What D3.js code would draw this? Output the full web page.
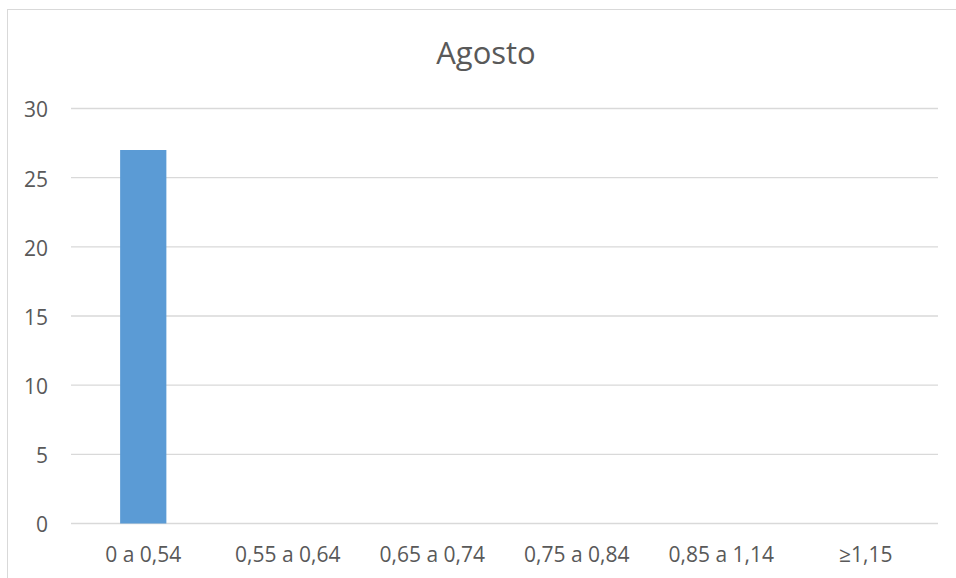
<!DOCTYPE html>
<html>
<head>
<meta charset="utf-8">
<script src="https://cdn.jsdelivr.net/npm/d3@7"></script>
<style>
  body { margin: 0; background: #fff; }
  text { font-family: "Open Sans", "Liberation Sans", sans-serif; fill: #595959; }
</style>
</head>
<body>
<script>
let categories = ['0 a 0,54', '0,55 a 0,64', '0,65 a 0,74', '0,75 a 0,84', '0,85 a 1,14', '≥1,15'];
let values = [27, 0, 0, 0, 0, 0];
let yTicks = [0, 5, 10, 15, 20, 25, 30];
let title = 'Agosto';

let margin = {top: 108.5, right: 18, bottom: 54.5, left: 71},
    width = 956 - margin.left - margin.right,
    height = 578 - margin.top - margin.bottom;

let svg = d3.select('body').append('svg')
    .attr('width', 956)
    .attr('height', 578);

// chart frame
svg.append('rect')
    .attr('x', 7.5).attr('y', 9.5)
    .attr('width', 960).attr('height', 600)
    .attr('fill', 'none').attr('stroke', '#d9d9d9');

svg.append('text')
    .attr('x', 486).attr('y', 63.5)
    .attr('text-anchor', 'middle')
    .style('font-size', '31px')
    .text(title);

let g = svg.append('g')
    .attr('transform', 'translate(' + margin.left + ',' + margin.top + ')');

let x = d3.scaleBand().domain(categories).range([0, width]).paddingInner(0.68).paddingOuter(0.34);
let y = d3.scaleLinear().domain([0, 30]).range([height, 0]);

// gridlines
g.selectAll('.grid').data(yTicks).enter().append('line')
    .attr('x1', 0).attr('x2', width)
    .attr('y1', d => y(d)).attr('y2', d => y(d))
    .attr('stroke', '#d9d9d9').attr('stroke-width', 1.3);

// y axis labels
let yAxis = g.append('g').call(d3.axisLeft(y).tickValues(yTicks).tickSize(0).tickPadding(23));
yAxis.select('.domain').remove();
yAxis.selectAll('text').style('font-size', '21px').attr('fill', '#595959').attr('dy', '0.4em')
    .style('font-family', '"Open Sans", "Liberation Sans", sans-serif');

// x axis labels
let xAxis = g.append('g').attr('transform', 'translate(0,' + height + ')')
    .call(d3.axisBottom(x).tickSize(0).tickPadding(23.5));
xAxis.select('.domain').remove();
xAxis.selectAll('text').style('font-size', '21px').attr('fill', '#595959')
    .style('font-family', '"Open Sans", "Liberation Sans", sans-serif');

g.selectAll('.bar').data(values).enter().append('rect')
    .attr('x', (d, i) => x(categories[i]))
    .attr('y', d => y(d))
    .attr('width', x.bandwidth())
    .attr('height', d => height - y(d))
    .attr('fill', '#5b9bd5');
</script>
</body>
</html>
